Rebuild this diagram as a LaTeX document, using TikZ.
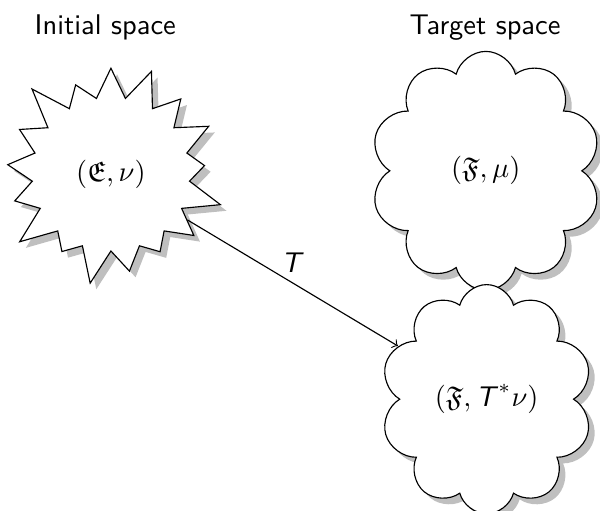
\documentclass[tikz,border=0pt]{standalone}
\usepackage{amssymb}
\usepackage{tikz}
\usetikzlibrary{shapes.symbols,shadows}
\newcommand{\Tmap}{\textsf{\textit{T}}}

\begin{document}
\begin{tikzpicture}[x=1cm,y=1cm,font=\sffamily,
  space/.style={draw,fill=white,drop shadow},
  burst/.style={space,starburst,minimum width=2.95cm,minimum height=2.9cm},
  puffy/.style={space,cloud,cloud puffs=10}]
\path[use as bounding box] (0,0) rectangle (7.41,6.30);
\node (initlabel) at (1.30,5.96) {Initial space};
\node (targetlabel) at (5.99,5.96) {Target space};
\node[burst] (init) at (1.37,4.15) {$(\mathfrak{E},\nu)$};
\node[puffy,minimum width=2.85cm,minimum height=2.95cm] (target) at (6.00,4.19) {$(\mathfrak{F},\mu)$};
\node[puffy,minimum width=2.62cm,minimum height=2.83cm] (push) at (6.01,1.37) {$(\mathfrak{F},\Tmap^*\nu)$};
\draw[->] (init) -- node[above] {$\Tmap$} (push);
\end{tikzpicture}
\end{document}
